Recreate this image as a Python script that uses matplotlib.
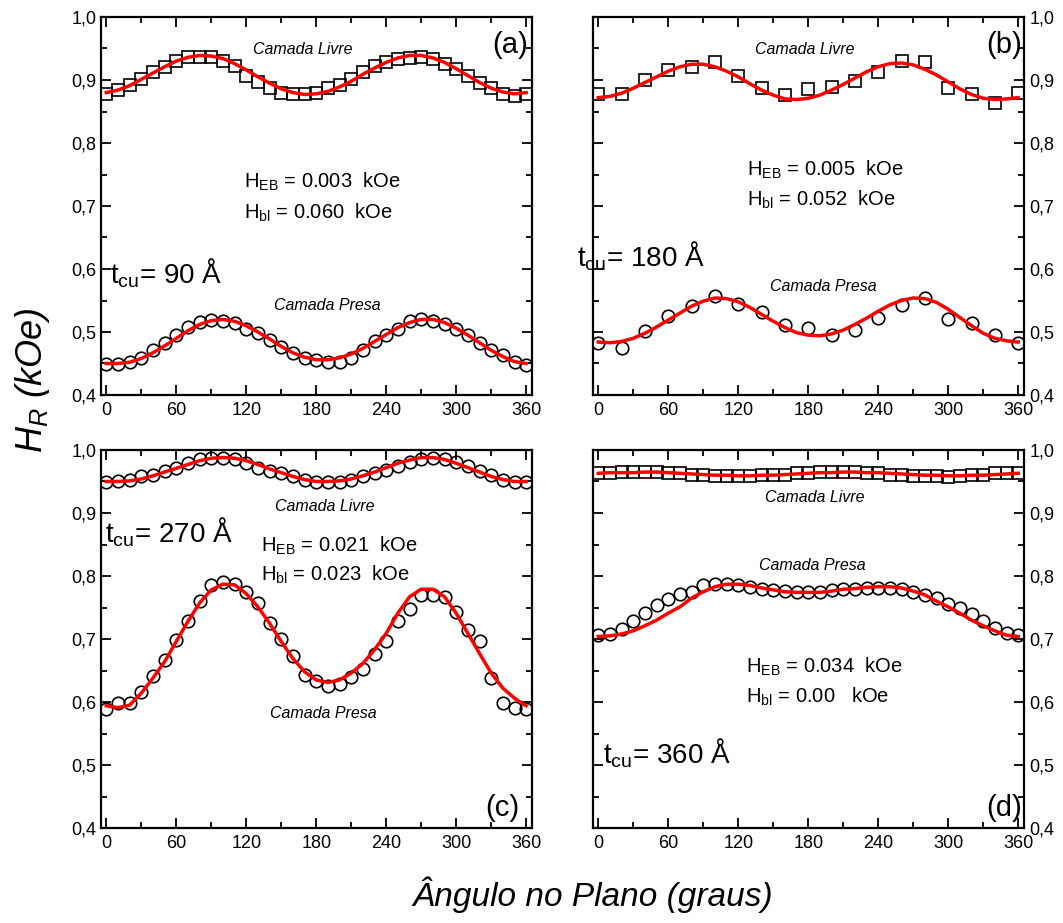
import numpy as np
import matplotlib
matplotlib.use("Agg")
import matplotlib.pyplot as plt
from matplotlib.ticker import MultipleLocator, FuncFormatter

plt.rcParams['font.family'] = ['Liberation Sans', 'DejaVu Sans']
plt.rcParams['mathtext.fontset'] = 'custom'
plt.rcParams['mathtext.rm'] = 'Liberation Sans'
plt.rcParams['mathtext.it'] = 'Liberation Sans:italic'

# angle grids (degrees)
ang10 = np.arange(0, 361, 10)
ang20 = np.arange(0, 361, 20)

# (a) t_cu = 90 A
a_livre = [0.877, 0.884, 0.892, 0.902, 0.912, 0.921, 0.930, 0.936, 0.937, 0.936,
           0.930, 0.922, 0.907, 0.897, 0.888, 0.880, 0.877, 0.877, 0.880, 0.887,
           0.892, 0.902, 0.913, 0.922, 0.929, 0.934, 0.935, 0.936, 0.934, 0.926,
           0.917, 0.907, 0.895, 0.887, 0.877, 0.874, 0.877]
a_livre_fit = [0.880, 0.884, 0.891, 0.901, 0.911, 0.921, 0.930, 0.936, 0.939, 0.938,
               0.934, 0.926, 0.916, 0.905, 0.895, 0.886, 0.880, 0.877, 0.878, 0.882,
               0.889, 0.898, 0.909, 0.919, 0.928, 0.935, 0.939, 0.939, 0.935, 0.928,
               0.918, 0.907, 0.896, 0.887, 0.881, 0.878, 0.880]
a_presa = [0.449, 0.449, 0.452, 0.459, 0.472, 0.482, 0.496, 0.508, 0.516, 0.519,
           0.517, 0.514, 0.505, 0.498, 0.488, 0.476, 0.466, 0.458, 0.455, 0.453,
           0.453, 0.458, 0.472, 0.486, 0.495, 0.505, 0.517, 0.520, 0.517, 0.512,
           0.504, 0.496, 0.482, 0.471, 0.463, 0.452, 0.447]
a_presa_fit = [0.450, 0.450, 0.452, 0.458, 0.467, 0.478, 0.490, 0.502, 0.512, 0.518,
               0.520, 0.517, 0.510, 0.500, 0.489, 0.477, 0.467, 0.460, 0.456, 0.456,
               0.459, 0.465, 0.474, 0.485, 0.496, 0.507, 0.515, 0.520, 0.520, 0.515,
               0.506, 0.495, 0.483, 0.471, 0.461, 0.453, 0.450]

# (b) t_cu = 180 A
b_livre = [0.878, 0.877, 0.900, 0.916, 0.921, 0.929, 0.907, 0.888, 0.876, 0.885,
           0.889, 0.898, 0.913, 0.930, 0.929, 0.888, 0.877, 0.864, 0.879]
b_livre_fit = [0.872, 0.874, 0.879, 0.887, 0.896, 0.905, 0.914, 0.921, 0.925, 0.925,
               0.921, 0.914, 0.905, 0.894, 0.884, 0.876, 0.870, 0.869, 0.871, 0.876,
               0.884, 0.893, 0.903, 0.913, 0.921, 0.926, 0.927, 0.924, 0.917, 0.908,
               0.897, 0.886, 0.877, 0.871, 0.869, 0.870, 0.872]
b_presa = [0.482, 0.475, 0.501, 0.526, 0.541, 0.557, 0.545, 0.532, 0.511, 0.506,
           0.495, 0.503, 0.522, 0.543, 0.554, 0.520, 0.515, 0.496, 0.482]
b_presa_fit = [0.484, 0.483, 0.485, 0.490, 0.498, 0.508, 0.519, 0.530, 0.541, 0.549,
               0.554, 0.553, 0.548, 0.539, 0.528, 0.517, 0.507, 0.499, 0.495, 0.494,
               0.497, 0.503, 0.512, 0.522, 0.533, 0.543, 0.550, 0.554, 0.553, 0.547,
               0.536, 0.523, 0.510, 0.498, 0.490, 0.486, 0.484]

# (c) t_cu = 270 A
c_livre = [0.950, 0.951, 0.952, 0.958, 0.961, 0.967, 0.972, 0.979, 0.985, 0.987,
           0.988, 0.985, 0.980, 0.972, 0.967, 0.963, 0.958, 0.953, 0.950, 0.950,
           0.950, 0.952, 0.958, 0.964, 0.969, 0.975, 0.981, 0.985, 0.987, 0.985,
           0.981, 0.974, 0.967, 0.960, 0.952, 0.950, 0.950]
c_livre_fit = [0.950, 0.950, 0.951, 0.954, 0.959, 0.965, 0.971, 0.977, 0.983, 0.987,
               0.988, 0.987, 0.983, 0.977, 0.970, 0.964, 0.958, 0.953, 0.950, 0.950,
               0.951, 0.954, 0.959, 0.965, 0.972, 0.979, 0.984, 0.988, 0.988, 0.985,
               0.979, 0.972, 0.965, 0.958, 0.953, 0.950, 0.950]
c_presa = [0.589, 0.599, 0.598, 0.616, 0.641, 0.667, 0.698, 0.728, 0.761, 0.786,
           0.791, 0.788, 0.775, 0.757, 0.726, 0.700, 0.673, 0.643, 0.633, 0.625,
           0.628, 0.639, 0.653, 0.676, 0.697, 0.728, 0.748, 0.770, 0.770, 0.767,
           0.743, 0.715, 0.697, 0.638, 0.599, 0.591, 0.589]
c_presa_fit = [0.594, 0.591, 0.595, 0.614, 0.638, 0.664, 0.696, 0.728, 0.757, 0.778,
               0.787, 0.786, 0.772, 0.751, 0.725, 0.696, 0.669, 0.648, 0.635, 0.631,
               0.635, 0.646, 0.661, 0.683, 0.709, 0.741, 0.767, 0.779, 0.779, 0.767,
               0.741, 0.709, 0.677, 0.646, 0.622, 0.606, 0.594]

# (d) t_cu = 360 A
d_livre = [0.963, 0.964, 0.965, 0.965, 0.965, 0.965, 0.964, 0.963, 0.961, 0.960,
           0.959, 0.959, 0.959, 0.959, 0.960, 0.960, 0.961, 0.963, 0.964, 0.965,
           0.965, 0.965, 0.965, 0.964, 0.963, 0.961, 0.960, 0.959, 0.959, 0.959,
           0.957, 0.959, 0.960, 0.961, 0.963, 0.963, 0.963]
d_livre_fit = [0.963, 0.964, 0.964, 0.964, 0.965, 0.965, 0.964, 0.963, 0.962, 0.961,
               0.960, 0.960, 0.959, 0.959, 0.960, 0.960, 0.961, 0.962, 0.963, 0.964,
               0.964, 0.965, 0.965, 0.964, 0.964, 0.963, 0.962, 0.961, 0.960, 0.960,
               0.959, 0.959, 0.960, 0.960, 0.961, 0.962, 0.963]
d_presa = [0.706, 0.708, 0.716, 0.728, 0.742, 0.754, 0.763, 0.772, 0.775, 0.785,
           0.787, 0.787, 0.785, 0.782, 0.779, 0.778, 0.776, 0.775, 0.775, 0.775,
           0.777, 0.779, 0.780, 0.781, 0.781, 0.781, 0.779, 0.775, 0.770, 0.765,
           0.755, 0.750, 0.739, 0.728, 0.718, 0.709, 0.706]
d_presa_fit = [0.704, 0.705, 0.708, 0.713, 0.721, 0.730, 0.741, 0.751, 0.765, 0.775,
               0.783, 0.787, 0.787, 0.785, 0.781, 0.778, 0.775, 0.774, 0.774, 0.774,
               0.776, 0.779, 0.780, 0.782, 0.783, 0.783, 0.781, 0.776, 0.770, 0.760,
               0.751, 0.741, 0.730, 0.721, 0.713, 0.706, 0.704]

W, H = 1063, 923
fig = plt.figure(figsize=(W / 100, H / 100), dpi=100)


def px_axes(x0, y0, x1, y1):
    return fig.add_axes([x0 / W, 1 - y1 / H, (x1 - x0) / W, (y1 - y0) / H])


def px_text(x, y, s, **kw):
    fig.text(x / W, 1 - y / H, s, **kw)


comma = FuncFormatter(lambda v, p: f"{v:.1f}".replace('.', ','))


def style_axes(ax, right_labels):
    ax.set_xlim(-4.5, 365)
    ax.set_ylim(0.4, 1.0)
    ax.xaxis.set_major_locator(MultipleLocator(60))
    ax.xaxis.set_minor_locator(MultipleLocator(30))
    ax.yaxis.set_major_locator(MultipleLocator(0.1))
    ax.yaxis.set_minor_locator(MultipleLocator(0.05))
    ax.yaxis.set_major_formatter(comma)
    ax.tick_params(which='both', direction='in', top=True, right=True,
                   width=1.3, labelsize=13)
    ax.tick_params(which='major', length=7)
    ax.tick_params(which='minor', length=4)
    ax.tick_params(axis='x', pad=5)
    if right_labels:
        ax.tick_params(axis='y', labelleft=False, labelright=True, pad=4)
    for sp in ax.spines.values():
        sp.set_linewidth(1.6)


def draw(ax, x1, y1, f1, m1, x2, y2, f2, m2):
    ax.plot(x1, y1, linestyle='none', marker=m1, ms=9, mfc='none', mec='black', mew=1.2, zorder=2)
    ax.plot(ang10, f1, color='red', lw=2.5, zorder=3)
    ax.plot(x2, y2, linestyle='none', marker=m2, ms=9, mfc='none', mec='black', mew=1.2, zorder=2)
    ax.plot(ang10, f2, color='red', lw=2.5, zorder=3)


ax_a = px_axes(101, 17, 532, 395)
ax_b = px_axes(593, 17, 1024, 395)
ax_c = px_axes(101, 450, 532, 828)
ax_d = px_axes(593, 450, 1024, 828)

draw(ax_a, ang10, a_livre, a_livre_fit, 's', ang10, a_presa, a_presa_fit, 'o')
draw(ax_b, ang20, b_livre, b_livre_fit, 's', ang20, b_presa, b_presa_fit, 'o')
draw(ax_c, ang10, c_livre, c_livre_fit, 'o', ang10, c_presa, c_presa_fit, 'o')
draw(ax_d, ang10, d_livre, d_livre_fit, 's', ang10, d_presa, d_presa_fit, 'o')

style_axes(ax_a, False)
style_axes(ax_b, True)
style_axes(ax_c, False)
style_axes(ax_d, True)

lab = dict(fontsize=11.5, style='italic', ha='center', va='center')
big = dict(fontsize=20, ha='left', va='center')
field = dict(fontsize=14.5, ha='left', va='center')
letter = dict(fontsize=21, ha='center', va='center')

# (a)
px_text(303, 50, 'Camada Livre', **lab)
px_text(327, 305, 'Camada Presa', **lab)
px_text(510, 45, '(a)', **letter)
px_text(244, 182, r'H$_{\mathrm{EB}}$ = 0.003  kOe', **field)
px_text(244, 213, r'H$_{\mathrm{bl}}$ = 0.060  kOe', **field)
px_text(110, 273, r't$_{\mathrm{cu}}$= 90 Å', **big)

# (b)
px_text(805, 50, 'Camada Livre', **lab)
px_text(823, 287, 'Camada Presa', **lab)
px_text(1004, 45, '(b)', **letter)
px_text(747, 170, r'H$_{\mathrm{EB}}$ = 0.005  kOe', **field)
px_text(747, 200, r'H$_{\mathrm{bl}}$ = 0.052  kOe', **field)
px_text(577, 256, r't$_{\mathrm{cu}}$= 180 Å', **big)

# (c)
px_text(325, 506, 'Camada Livre', **lab)
px_text(323, 714, 'Camada Presa', **lab)
px_text(502, 808, '(c)', **letter)
px_text(261, 546, r'H$_{\mathrm{EB}}$ = 0.021  kOe', **field)
px_text(261, 575, r'H$_{\mathrm{bl}}$ = 0.023  kOe', **field)
px_text(105, 532, r't$_{\mathrm{cu}}$= 270 Å', **big)

# (d)
px_text(815, 498, 'Camada Livre', **lab)
px_text(812, 566, 'Camada Presa', **lab)
px_text(1004, 808, '(d)', **letter)
px_text(746, 667, r'H$_{\mathrm{EB}}$ = 0.034  kOe', **field)
px_text(746, 697, r'H$_{\mathrm{bl}}$ = 0.00   kOe', **field)
px_text(603, 753, r't$_{\mathrm{cu}}$= 360 Å', **big)

# axis titles
px_text(593, 895, 'Ângulo no Plano (graus)', fontsize=24, style='italic',
        ha='center', va='center')
px_text(33, 380, r'$H_R$ (kOe)', fontsize=26, style='italic', rotation=90,
        ha='center', va='center')

fig.savefig('out.png', dpi=100)
